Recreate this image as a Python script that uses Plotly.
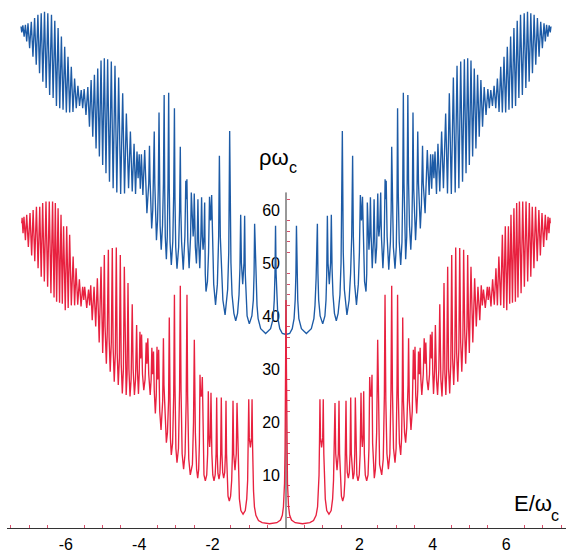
import plotly.graph_objects as go

# ---- data (right half, E >= 0; the chart is mirror-symmetric) ----
red_E = [0, 0.012, 0.025, 0.04, 0.07, 0.1, 0.15, 0.25, 0.45, 0.65, 0.75, 0.82, 0.86, 0.885, 0.9, 0.912,
         0.925, 0.94, 0.97, 1.0, 1.015, 1.03, 1.045, 1.07, 1.11, 1.17, 1.23, 1.27, 1.295, 1.31, 1.335, 1.355,
         1.39, 1.425, 1.444, 1.46, 1.48, 1.51, 1.545, 1.58, 1.605, 1.62, 1.635, 1.65, 1.67, 1.698, 1.725,
         1.745, 1.763, 1.78, 1.8, 1.826, 1.855, 1.873, 1.889, 1.905, 1.93, 1.962, 1.995, 2.02, 2.044, 2.06,
         2.08, 2.1, 2.117, 2.135, 2.16, 2.198, 2.235, 2.26, 2.28, 2.3, 2.316, 2.33, 2.343, 2.36, 2.38, 2.406,
         2.435, 2.47, 2.498, 2.52, 2.55, 2.608, 2.65, 2.68, 2.698, 2.72, 2.75, 2.79, 2.83, 2.86, 2.88, 2.9,
         2.93, 2.97, 3.0, 3.025, 3.04, 3.06, 3.09, 3.125, 3.15, 3.168, 3.18, 3.2, 3.23, 3.26, 3.29, 3.325,
         3.34, 3.36, 3.405, 3.44, 3.47, 3.495, 3.515, 3.535, 3.56, 3.59, 3.61, 3.635, 3.655, 3.675, 3.70,
         3.74, 3.765, 3.79, 3.81, 3.84, 3.875, 3.91, 3.935, 3.96, 3.98, 4.0, 4.02, 4.05, 4.07, 4.1, 4.13,
         4.165, 4.19, 4.22, 4.25, 4.28, 4.305, 4.33, 4.355, 4.38, 4.405, 4.43, 4.46, 4.49, 4.515, 4.54, 4.57,
         4.60, 4.624, 4.65, 4.68, 4.71, 4.733, 4.76, 4.79, 4.82, 4.84, 4.87, 4.895, 4.93, 4.95, 4.975, 4.995,
         5.04, 5.09, 5.14, 5.185, 5.23, 5.28, 5.32, 5.35, 5.38, 5.43, 5.485, 5.51, 5.54, 5.585, 5.63, 5.675,
         5.72, 5.76, 5.80, 5.85, 5.895, 5.935, 5.975, 6.015, 6.06, 6.095, 6.13, 6.17, 6.21, 6.25, 6.285,
         6.32, 6.36, 6.405, 6.45, 6.495, 6.54, 6.585, 6.63, 6.67, 6.71, 6.755, 6.80, 6.845, 6.89, 6.93,
         6.975, 7.02, 7.065, 7.10, 7.14, 7.165, 7.19, 7.2]
red_rho = [43, 30, 15, 8.5, 4, 2.4, 1.5, 1.0, 0.8, 1.0, 1.4, 2.4, 4, 7, 10, 16,
           24.3, 17, 15.2, 17, 24.3, 14, 9, 5.5, 3.3, 2.6, 3.3, 5.5, 9, 14, 23.6, 14,
           10.9, 14, 24, 14, 9, 6, 5.1, 6, 9, 14, 24, 14, 10.5, 9.4, 10.5,
           14, 24.6, 14, 10.3, 9.2, 10.3, 14, 24.6, 14, 10, 8.9, 10, 14, 25.5, 17.5,
           15.3, 17.5, 25.8, 14, 10, 8.9, 10, 15, 28.5, 25, 24.8, 25.5, 28.9, 16, 11, 9.4,
           11, 18, 35.5, 20, 12, 10, 13, 25, 44, 24, 14, 11.1, 14, 26, 45.7, 26,
           15, 12.3, 15, 27, 44, 25, 16, 13.8, 17, 26, 39.7, 24, 18, 16.1, 19, 27,
           35.8, 24, 18.5, 22, 33.6, 28, 34.2, 25, 21.6, 26, 33.3, 29, 34, 28, 25.1,
           29, 35.8, 31, 35, 28, 26, 29, 36.5, 32, 37, 29, 25.3, 30, 38.3, 28, 25.1,
           30, 42.2, 28, 24.8, 30, 46.2, 29, 25.1, 30, 49.3, 30, 25.4, 31, 51.5, 32, 27,
           33, 52.9, 33, 27.6, 34, 52.8, 35, 29.5, 36, 52.5, 37, 31, 38, 51.5, 38, 33,
           49.3, 35, 47.1, 38, 45.5, 39.2, 45.8, 42, 45, 41.5, 45.5, 43, 45.5, 41.8, 46.9, 42.1,
           49, 42, 51.2, 42, 55.3, 41.5, 56.9, 41.1, 56.9, 42.3, 59.1, 42.5, 60.3, 42.7, 61.3,
           43.5, 61.6, 44.3, 61.6, 45.5, 61.6, 46.5, 61.3, 47.4, 60.6, 49, 60.6, 50.3, 60, 51.4,
           59.4, 53, 59.1, 54.3, 58.7, 55.6, 58.5, 57.5]

blue_E = [0, 0.1, 0.17, 0.22, 0.25, 0.27, 0.285, 0.3, 0.32, 0.35, 0.42, 0.555, 0.69, 0.76, 0.79, 0.82,
          0.855, 0.87, 0.89, 0.93, 1.0, 1.06, 1.09, 1.11, 1.127, 1.145, 1.18, 1.215, 1.235, 1.255, 1.28,
          1.32, 1.37, 1.42, 1.47, 1.5, 1.535, 1.56, 1.59, 1.66, 1.72, 1.76, 1.79, 1.815, 1.835, 1.87, 1.92,
          1.97, 2.0, 2.026, 2.045, 2.055, 2.065, 2.084, 2.11, 2.14, 2.18, 2.2, 2.216, 2.235, 2.26, 2.28,
          2.30, 2.32, 2.35, 2.38, 2.40, 2.42, 2.44, 2.47, 2.50, 2.515, 2.53, 2.555, 2.58, 2.60, 2.64, 2.675,
          2.70, 2.715, 2.73, 2.755, 2.80, 2.845, 2.865, 2.88, 2.9, 2.925, 2.97, 3.005, 3.025, 3.04, 3.06,
          3.085, 3.125, 3.16, 3.18, 3.197, 3.215, 3.235, 3.26, 3.29, 3.305, 3.32, 3.34, 3.365, 3.40, 3.43,
          3.445, 3.46, 3.48, 3.5, 3.53, 3.56, 3.575, 3.59, 3.61, 3.63, 3.66, 3.69, 3.705, 3.72, 3.74, 3.79,
          3.85, 3.90, 3.94, 3.97, 4.00, 4.03, 4.06, 4.10, 4.14, 4.19, 4.24, 4.29, 4.35, 4.40, 4.45, 4.505,
          4.56, 4.61, 4.66, 4.71, 4.76, 4.81, 4.86, 4.905, 4.95, 4.995, 5.04, 5.085, 5.13, 5.175, 5.22,
          5.265, 5.31, 5.355, 5.40, 5.45, 5.50, 5.54, 5.58, 5.625, 5.67, 5.715, 5.76, 5.805, 5.85, 5.895,
          5.94, 5.985, 6.03, 6.075, 6.12, 6.165, 6.21, 6.255, 6.30, 6.345, 6.39, 6.44, 6.49, 6.535, 6.58,
          6.625, 6.67, 6.715, 6.76, 6.805, 6.85, 6.895, 6.94, 6.985, 7.03, 7.065, 7.10, 7.135, 7.17, 7.2, 7.22]
blue_rho = [36.5, 36.7, 37.6, 39.5, 43, 48, 57, 48, 43, 39.5, 37.6, 36.7, 37.6, 39.5, 42, 47,
            57.4, 48, 43, 40, 38.5, 40, 43, 48, 58.9, 50, 46, 50, 59.1, 49, 44,
            40.5, 39.1, 40.5, 44, 50, 74.9, 52, 45, 40.2, 43, 48, 55, 70.2, 55, 46, 42.1,
            46, 52, 62.8, 58.5, 58, 58.5, 62.5, 52, 46.5, 44.6, 48, 61.4, 55, 52.5, 55,
            62.4, 55, 49, 54, 62, 54, 49.9, 53, 63.1, 57, 55, 57, 63.3, 55, 49, 54,
            65.8, 62, 65.5, 55, 48.7, 54, 60, 71.9, 60, 53, 48.9, 53, 62, 79.2, 63,
            54, 49.6, 54, 64, 82.1, 65, 55, 50.7, 55, 64, 81.7, 65, 57, 52.5, 57,
            64, 78.4, 64, 58, 54.3, 59, 65, 74.8, 65, 60, 56.5, 61, 66, 72.1, 65, 59.4,
            71.3, 62.8, 70.5, 64, 70.5, 66, 71, 63, 72.5, 63.5, 74.8, 64.1, 78.2, 63.1, 82, 63,
            85, 63.3, 87.2, 64.1, 88, 65.3, 88.4, 66.9, 88.6, 68.5, 88.2, 70.1, 86.7, 71.6, 85.5,
            73.8, 84.5, 75.7, 83.2, 77.9, 82.8, 79.2, 82.6, 79.6, 83.4, 79.2, 84.8, 78.5, 87, 78.4,
            88.9, 78.4, 90.8, 78.9, 92.7, 79.2, 94.3, 79.6, 95.7, 81.1, 96.8, 81.7, 97.1, 83, 97.4,
            84.2, 97.1, 85.8, 96.8, 87.4, 96.2, 88.9, 95.5, 90.5, 95.2, 91.8, 94.9, 92.7, 94.8, 93.5, 94.6]

x_tick_vals = [-6, -4, -2, 2, 4, 6]
x_tick_text = ["-6", "-4", "-2", "2", "4", "6"]
y_tick_vals = [10, 20, 30, 40, 50, 60]
y_tick_text = ["10", "20", "30", "40", "50", "60"]
x_minor = [v / 2 for v in range(-15, 16) if v / 2 not in (-6, -4, -2, 0, 2, 4, 6)]
y_minor = [v for v in range(2, 63, 2) if v % 10 != 0]
y_axis_top = 63.3


def mirror(E, r):
    xs = [-e for e in reversed(E[1:])] + list(E)
    ys = list(reversed(r[1:])) + list(r)
    return xs, ys


BLUE = "#1d5ba6"
RED = "#e8213f"
TICK = "#d9506c"
FONT = "Liberation Sans, Arial, sans-serif"

fig = go.Figure()
bx, by = mirror(blue_E, blue_rho)
rx, ry = mirror(red_E, red_rho)
fig.add_trace(go.Scatter(x=bx, y=by, mode="lines", line=dict(color=BLUE, width=1.35), hoverinfo="skip"))
fig.add_trace(go.Scatter(x=rx, y=ry, mode="lines", line=dict(color=RED, width=1.35), hoverinfo="skip"))

W, H = 566, 555
ml, mr, mt, mb = 7, 0, 0, 27
x_range = [-7.602, 7.629]
pos = (0 - x_range[0]) / (x_range[1] - x_range[0])

fig.update_layout(
    width=W, height=H,
    margin=dict(l=ml, r=mr, t=mt, b=mb, pad=0),
    paper_bgcolor="white", plot_bgcolor="white",
    showlegend=False,
    font=dict(family=FONT, size=16, color="black"),
    xaxis=dict(
        range=x_range, showgrid=False, zeroline=False,
        showline=True, linecolor="#333333", linewidth=1,
        tickmode="array", tickvals=x_tick_vals, ticktext=x_tick_text,
        ticks="inside", ticklen=0, ticklabelstandoff=2,
        tickfont=dict(family=FONT, size=16, color="black"),
        minor=dict(tickmode="array", tickvals=x_minor, ticks="inside", ticklen=3,
                   tickcolor=TICK, tickwidth=1),
        layer="below traces", fixedrange=True,
    ),
    yaxis=dict(
        range=[0, 99.6], showgrid=False, zeroline=False, showline=False,
        anchor="free", position=pos, side="left",
        tickmode="array", tickvals=y_tick_vals, ticktext=y_tick_text,
        ticks="inside", ticklen=0, ticklabelstandoff=6,
        tickfont=dict(family=FONT, size=16, color="black"),
        minor=dict(tickmode="array", tickvals=y_minor, ticks="inside", ticklen=3,
                   tickcolor=TICK, tickwidth=1),
        layer="below traces", fixedrange=True,
    ),
    shapes=[dict(type="line", xref="x", yref="y", x0=0, x1=0, y0=0, y1=y_axis_top,
                 line=dict(color="#333333", width=1), layer="below")],
    annotations=[
        dict(text="ρω", x=-0.80, y=69.8, xref="x", yref="y",
             xanchor="left", yanchor="middle", showarrow=False,
             font=dict(family=FONT, size=22, color="black")),
        dict(text="c", x=0.03, y=68.0, xref="x", yref="y",
             xanchor="left", yanchor="middle", showarrow=False,
             font=dict(family=FONT, size=16, color="black")),
        dict(text="E/ω", x=6.15, y=4.6, xref="x", yref="y",
             xanchor="left", yanchor="middle", showarrow=False,
             font=dict(family=FONT, size=22, color="black")),
        dict(text="c", x=7.17, y=2.4, xref="x", yref="y",
             xanchor="left", yanchor="middle", showarrow=False,
             font=dict(family=FONT, size=16, color="black")),
    ],
)

fig.write_html("out.html", config={"displayModeBar": False},
               post_script="document.body.style.margin='0px';")
